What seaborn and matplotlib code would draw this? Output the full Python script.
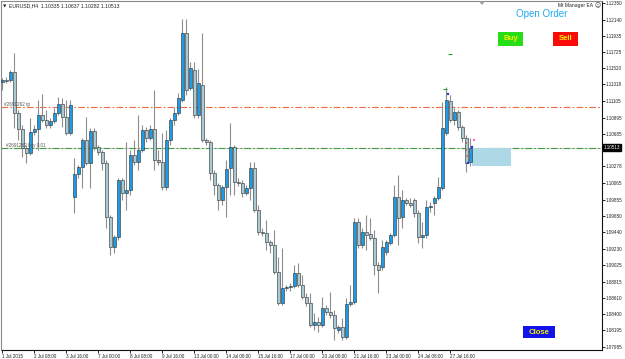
import numpy as np
import pandas as pd
import matplotlib
matplotlib.use("Agg")
import matplotlib.pyplot as plt
import matplotlib.transforms as mtransforms
from matplotlib.patches import Rectangle, Polygon
from matplotlib import font_manager
import seaborn as sns

# ---------------- data (EURUSD, H4) ----------------
opens = [1.11347, 1.11373, 1.11373, 1.11474, 1.10954, 1.10751, 1.10510, 1.10446, 1.10713, 1.10751,
         1.10929, 1.10865, 1.10802, 1.10853, 1.10954, 1.11068, 1.10903, 1.10700, 1.09888, 1.10180,
         1.10269, 1.10611, 1.10320, 1.10726, 1.10523, 1.10459, 1.10320, 1.09634, 1.09254, 1.09380,
         1.10104, 1.09939, 1.09977, 1.10421, 1.10332, 1.10484, 1.10738, 1.10637, 1.10751, 1.10358,
         1.10332, 1.10015, 1.10611, 1.10865, 1.10954, 1.11119, 1.11969, 1.11271, 1.11500, 1.10929,
         1.11309, 1.10611, 1.10586, 1.10193, 1.10040, 1.09850, 1.10015, 1.10256, 1.10523, 1.10078,
         1.10066, 1.09939, 1.10002, 1.10256, 1.09723, 1.09444, 1.09431, 1.09317, 1.09279, 1.08936,
         1.08543, 1.08733, 1.08746, 1.08759, 1.08924, 1.08771, 1.08619, 1.08543, 1.08264, 1.08302,
         1.08264, 1.08479, 1.08429, 1.08391, 1.08200, 1.08238, 1.08111, 1.08530, 1.08556, 1.09571,
         1.09279, 1.09444, 1.09419, 1.09368, 1.09025, 1.09000, 1.09190, 1.09304, 1.09406, 1.09888,
         1.09634, 1.09850, 1.09812, 1.09850, 1.09685, 1.09380, 1.09406, 1.09761, 1.09812, 1.09875,
         1.10002, 1.10700, 1.11106, 1.10865, 1.10967, 1.10776, 1.10637, 1.10335]
highs = [1.11398, 1.11411, 1.11500, 1.11715, 1.10992, 1.10802, 1.10548, 1.10891, 1.10802, 1.11119,
         1.11195, 1.10992, 1.10891, 1.11017, 1.11157, 1.11144, 1.11119, 1.11119, 1.10383, 1.10294,
         1.10637, 1.10903, 1.10764, 1.10764, 1.10548, 1.10484, 1.10358, 1.09660, 1.09406, 1.10129,
         1.10129, 1.10586, 1.10484, 1.10611, 1.10929, 1.10802, 1.10776, 1.10802, 1.11246, 1.10484,
         1.10700, 1.10738, 1.10891, 1.11030, 1.11208, 1.12147, 1.12147, 1.11601, 1.11601, 1.11512,
         1.11969, 1.10637, 1.10611, 1.10231, 1.10066, 1.10040, 1.10358, 1.10827, 1.10548, 1.10129,
         1.10104, 1.10040, 1.10332, 1.10332, 1.09787, 1.09495, 1.09596, 1.09342, 1.09469, 1.09127,
         1.09241, 1.08771, 1.08797, 1.09025, 1.09051, 1.08898, 1.08670, 1.08670, 1.08416, 1.08365,
         1.08619, 1.08518, 1.08683, 1.08454, 1.08264, 1.08353, 1.08606, 1.08771, 1.09622, 1.09622,
         1.09495, 1.09660, 1.09622, 1.09469, 1.09063, 1.09342, 1.09342, 1.09431, 1.10040, 1.10167,
         1.09977, 1.09875, 1.09875, 1.09875, 1.09723, 1.09571, 1.09850, 1.09825, 1.09901, 1.10142,
         1.11094, 1.11284, 1.11182, 1.11017, 1.10992, 1.10802, 1.10675, 1.10637]
lows = [1.11246, 1.11335, 1.11347, 1.10764, 1.10611, 1.10396, 1.10320, 1.10421, 1.10675, 1.10484,
        1.10840, 1.10764, 1.10764, 1.10827, 1.10929, 1.10776, 1.10675, 1.10675, 1.09685, 1.10129,
        1.10002, 1.10294, 1.10002, 1.10484, 1.10421, 1.10231, 1.09495, 1.09152, 1.09177, 1.09342,
        1.09850, 1.09723, 1.09913, 1.10294, 1.10231, 1.10459, 1.10586, 1.10611, 1.10231, 1.10294,
        1.09977, 1.09977, 1.10548, 1.10802, 1.10929, 1.11094, 1.11182, 1.11246, 1.10891, 1.10891,
        1.10586, 1.10548, 1.10104, 1.09913, 1.09723, 1.09787, 1.09634, 1.09913, 1.09913, 1.10028,
        1.09888, 1.09913, 1.09850, 1.09698, 1.09406, 1.09393, 1.09215, 1.09177, 1.08911, 1.08518,
        1.08518, 1.08695, 1.08695, 1.08733, 1.08746, 1.08594, 1.08505, 1.08238, 1.08200, 1.08175,
        1.08238, 1.08391, 1.08353, 1.08073, 1.08162, 1.08073, 1.08086, 1.08505, 1.08530, 1.09241,
        1.09241, 1.09215, 1.09342, 1.08898, 1.08670, 1.08962, 1.09152, 1.09279, 1.09380, 1.09279,
        1.09495, 1.09787, 1.09761, 1.09634, 1.09304, 1.09241, 1.09368, 1.09698, 1.09660, 1.09850,
        1.09977, 1.10675, 1.10840, 1.10802, 1.10738, 1.10586, 1.10205, 1.10282]
closes = [1.11373, 1.11365, 1.11474, 1.10954, 1.10751, 1.10510, 1.10446, 1.10713, 1.10751, 1.10929,
          1.10865, 1.10802, 1.10853, 1.10954, 1.11068, 1.10903, 1.10700, 1.11056, 1.10180, 1.10269,
          1.10611, 1.10320, 1.10726, 1.10523, 1.10459, 1.10320, 1.09634, 1.09254, 1.09380, 1.10104,
          1.09939, 1.09977, 1.10421, 1.10332, 1.10484, 1.10738, 1.10637, 1.10751, 1.10358, 1.10332,
          1.10015, 1.10611, 1.10865, 1.10954, 1.11144, 1.11969, 1.11246, 1.11525, 1.10929, 1.11335,
          1.10611, 1.10586, 1.10193, 1.10040, 1.09850, 1.10015, 1.10243, 1.10523, 1.10078, 1.10066,
          1.09939, 1.10002, 1.10256, 1.09723, 1.09444, 1.09431, 1.09317, 1.09279, 1.08936, 1.08543,
          1.08733, 1.08746, 1.08759, 1.08924, 1.08771, 1.08619, 1.08543, 1.08264, 1.08302, 1.08264,
          1.08479, 1.08429, 1.08391, 1.08226, 1.08238, 1.08111, 1.08530, 1.08556, 1.09571, 1.09279,
          1.09444, 1.09406, 1.09368, 1.09025, 1.08962, 1.09254, 1.09317, 1.09406, 1.09888, 1.09622,
          1.09850, 1.09812, 1.09787, 1.09685, 1.09380, 1.09406, 1.09761, 1.09775, 1.09875, 1.10015,
          1.10764, 1.11119, 1.10865, 1.10967, 1.10776, 1.10637, 1.10320, 1.10513]

x_tick_labels = ["1 Jul 2015", "2 Jul 08:00", "3 Jul 16:00", "7 Jul 00:00", "8 Jul 08:00",
                 "9 Jul 16:00", "13 Jul 00:00", "14 Jul 08:00", "15 Jul 16:00", "17 Jul 00:00",
                 "20 Jul 08:00", "21 Jul 16:00", "23 Jul 00:00", "24 Jul 08:00", "27 Jul 16:00"]
bars_per_label = 8
y_tick_labels = ["1.12350", "1.12140", "1.11935", "1.11725", "1.11520", "1.11318", "1.11105",
                 "1.10895", "1.10685", "1.10278", "1.10065", "1.09855", "1.09650", "1.09440",
                 "1.09230", "1.09025", "1.08815", "1.08610", "1.08400", "1.08195", "1.07985"]

tp_price = 1.11030
order_price = 1.10513
order_label = "#2691262 buy 0.01"
tp_label = "#2691262 tp"
header = "EURUSD,H4  1.10335 1.10637 1.10282 1.10513"

marker_green_x = [111.9, 110.6]
marker_green_y = [1.11703, 1.11259]
marker_blue_x = [111.4, 117.4, 116.4]
marker_blue_y = [1.11195, 1.10523, 1.10320]
marker_red_x = [116.0, 116.0, 116.2]
marker_red_y = [1.10574, 1.10485, 1.10409]
marker_pink_x = [117.9]
marker_pink_y = [1.10612]

# ---------------- styling ----------------
sns.set_theme(style="white")
names = {f.name for f in font_manager.fontManager.ttflist}
small_font = "Liberation Sans Narrow" if "Liberation Sans Narrow" in names else "Liberation Sans"
small_size = 3.9 if small_font == "Liberation Sans Narrow" else 3.3
plt.rcParams["font.family"] = ["Liberation Sans", "DejaVu Sans"]

BULL = "#1e9be4"
BEAR = "#a9c9d5"
WICK = "#8e8e8e"

W, H = 625, 359
fig = plt.figure(figsize=(W / 100, H / 100), dpi=100)
fig.patch.set_facecolor("white")
ax = fig.add_axes([1.5 / W, 9 / H, 600.5 / W, 349 / H])
ax.set_facecolor("white")

df = pd.DataFrame({"open": opens, "high": highs, "low": lows, "close": closes})
df["bar"] = np.arange(len(df))
df["bull"] = df["close"] >= df["open"]
df["bottom"] = df[["open", "close"]].min(axis=1)
df["height"] = (df["close"] - df["open"]).abs().clip(lower=0.00003)

ax.vlines(df["bar"], df["low"], df["high"], color=WICK, lw=0.8, zorder=2)
ax.bar(df["bar"], df["height"], bottom=df["bottom"], width=0.7,
       color=np.where(df["bull"], BULL, BEAR), edgecolor="#2c2c2c", linewidth=0.4, zorder=3)

# order lines
ax.axhline(tp_price, color="#ee6d40", lw=0.8, ls=(0, (6, 2, 1.5, 2)), zorder=1)
ax.axhline(order_price, color="#cfcfcf", lw=0.8, zorder=1)
ax.axhline(order_price, color="#3f9e3f", lw=0.8, ls=(0, (6, 2, 1.5, 2)), zorder=1.5)
ax.text(0.5, tp_price, tp_label, fontsize=small_size, color="#555555", va="bottom", ha="left",
        family=small_font)
ax.text(1.0, order_price, order_label, fontsize=small_size, color="#555555", va="bottom",
        ha="left", family=small_font)

# light blue rectangle: last close -> last low
last = len(df) - 1
ax.add_patch(Rectangle((last + 0.4, df["low"].iloc[-1]), 9.7,
                       df["close"].iloc[-1] - df["low"].iloc[-1],
                       facecolor="#add8e6", edgecolor="none", zorder=1.8))

# EA markers
sns.scatterplot(x=marker_green_x, y=marker_green_y, marker="_", s=10, color="#22a022",
                linewidth=0.8, ax=ax, zorder=5)
sns.scatterplot(x=marker_blue_x, y=marker_blue_y, marker="o", s=3, color="#1530e0",
                edgecolor="none", ax=ax, zorder=5)
sns.scatterplot(x=marker_red_x, y=marker_red_y, marker="o", s=1.2, color="#d84040",
                edgecolor="none", ax=ax, zorder=5)
sns.scatterplot(x=marker_pink_x, y=marker_pink_y, marker="o", s=3, color="#ff66cc",
                edgecolor="none", ax=ax, zorder=5)

# axes limits (4 px per bar)
ax.set_xlim(-0.25, 149.9)
ax.set_ylim(1.07946, 1.12375)

# ticks
xt = [i * bars_per_label for i in range(len(x_tick_labels))]
ax.set_xticks(xt)
ax.set_xticklabels(x_tick_labels, fontsize=small_size, family=small_font)
for lab in ax.get_xticklabels():
    lab.set_horizontalalignment("left")
ax.yaxis.tick_right()
ax.set_yticks([float(v) for v in y_tick_labels])
ax.set_yticklabels(y_tick_labels, fontsize=small_size, family=small_font)
ax.tick_params(axis="both", length=2.2, width=0.6, color="black", pad=0.8,
               labelcolor="#222222", direction="out")
ax.tick_params(axis="y", right=True, left=False)
ax.tick_params(axis="x", bottom=True)

for side in ["left", "top"]:
    ax.spines[side].set_color("#8a8a8a")
    ax.spines[side].set_linewidth(0.8)
for side in ["right", "bottom"]:
    ax.spines[side].set_color("#111111")
    ax.spines[side].set_linewidth(0.8)

# current price tag
trans = mtransforms.blended_transform_factory(ax.transAxes, ax.transData)
ax.text(1.003, order_price, "1.10513", transform=trans, fontsize=small_size, family=small_font,
        color="white", va="center", ha="left",
        bbox=dict(boxstyle="square,pad=0.2", fc="black", ec="black"), zorder=10, clip_on=False)

# header text
fig.text(3 / W, 1 - 6 / H, "\u25BC", fontsize=3.2, color="#222222", va="center", ha="left",
         family="DejaVu Sans")
fig.text(9 / W, 1 - 6 / H, header, fontsize=small_size + 0.4, color="#222222", va="center",
         ha="left", family=small_font)
fig.text(593 / W, 1 - 6 / H, "Mt Manager EA", fontsize=small_size + 0.3, color="#222222",
         va="center", ha="right", family=small_font)
fig.text(598 / W, 1 - 6 / H, "\u263A", fontsize=4.2, color="#222222", va="center",
         ha="center", family="DejaVu Sans")
fig.text(542 / W, 1 - 14 / H, "Open Order", fontsize=7, color="#1fa9f2", va="center",
         ha="center")

# chart-shift triangle
fig.add_artist(Polygon([[479 / W, 1 - 1 / H], [485 / W, 1 - 1 / H], [482 / W, 1 - 5 / H]],
                       closed=True, transform=fig.transFigure, fc="#9a9a9a", ec="none"))

# buttons
def button(x0, y0, x1, y1, fc, label):
    fig.add_artist(Rectangle((x0 / W, 1 - y1 / H), (x1 - x0) / W, (y1 - y0) / H,
                             transform=fig.transFigure, fc=fc, ec="none", zorder=20))
    fig.text((x0 + x1) / 2 / W, 1 - (y0 + y1) / 2 / H, label, fontsize=5.6, color="#f2f200",
             fontweight="bold", va="center", ha="center", zorder=21)

button(498, 32, 523, 46, "#27dd18", "Buy")
button(553, 32, 578, 46, "#fb0a0a", "Sell")
button(523, 326, 555, 338, "#1212ea", "Close")

fig.savefig("out.png", dpi=100, facecolor="white")
